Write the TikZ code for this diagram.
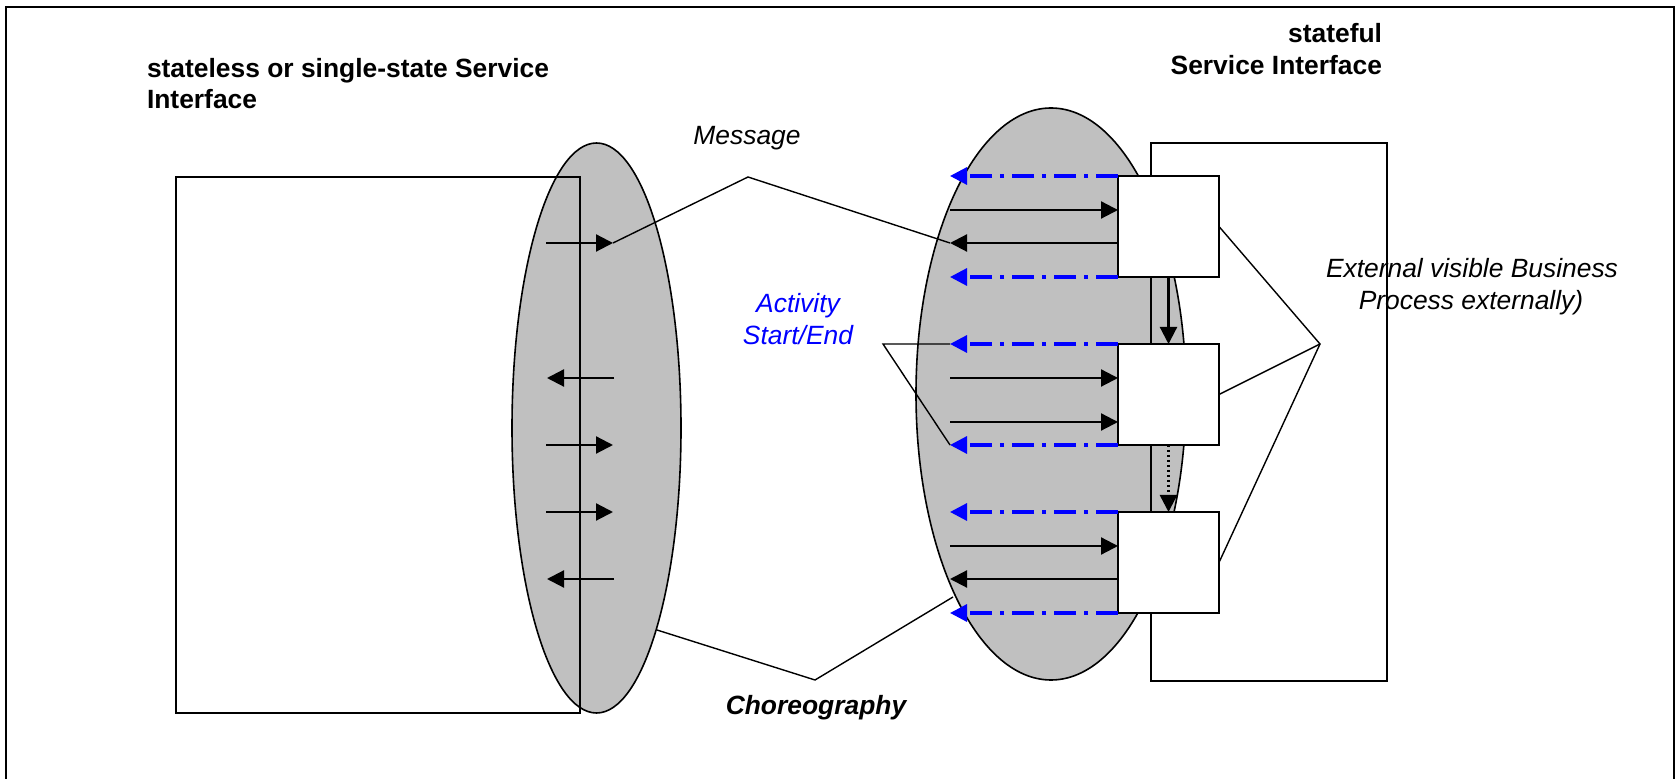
\documentclass[tikz,border=0pt]{standalone}
\usepackage{fontspec}
\setmainfont{Liberation Sans}
\usetikzlibrary{arrows.meta,shapes.geometric}
\definecolor{silverfill}{RGB}{192,192,192}
\definecolor{actblue}{RGB}{0,0,255}

\begin{document}
\begin{tikzpicture}[x=0.5pt,y=-0.5pt,
  lbl/.style={inner sep=0pt, outer sep=0pt, font=\fontsize{13.2}{15.5}\selectfont},
  frame/.style={draw=black, line width=0.8pt},
  oval/.style={ellipse, draw=black, fill=silverfill, line width=0.8pt, inner sep=0pt, outer sep=0pt},
  outline/.style={rectangle, draw=black, line width=0.8pt, inner sep=0pt, outer sep=0pt},
  stepbox/.style={rectangle, draw=black, fill=white, line width=0.8pt, inner sep=0pt, outer sep=0pt,
                  minimum width=50.5pt, minimum height=50.5pt},
  msg/.style={draw=black, line width=1.1pt, -{Triangle[length=8.5pt,width=8.5pt]}},
  act/.style={draw=actblue, line width=1.6pt, dash pattern=on 11pt off 4pt on 2pt off 4pt,
              -{Triangle[length=8.5pt,width=8.5pt]}},
  seq/.style={draw=black, line width=1.3pt, dash pattern=on 1.2pt off 1.3pt,
              -{Triangle[length=8.5pt,width=8.5pt]}},
  link/.style={draw=black, line width=0.7pt}
]
\path[use as bounding box] (0,0) rectangle (1676,779);

% page frame, open at the bottom
\draw[frame] (6,779) -- (6,7) -- (1674,7) -- (1674,779);

% titles
\node[lbl, font=\fontsize{13.2}{15.5}\selectfont\bfseries, anchor=base west] (tl1) at (147,78) {stateless or single-state Service};
\node[lbl, font=\fontsize{13.2}{15.5}\selectfont\bfseries, anchor=base west] (tl2) at (147,109) {Interface};
\node[lbl, font=\fontsize{13.2}{15.5}\selectfont\bfseries, anchor=base east] (tr1) at (1382,43) {stateful};
\node[lbl, font=\fontsize{13.2}{15.5}\selectfont\bfseries, anchor=base east] (tr2) at (1382,75) {Service Interface};

% interface ovals
\node[oval, minimum width=84.5pt, minimum height=285pt] (le) at (596.5,428) {};
\node[oval, minimum width=135pt, minimum height=286pt] (re) at (1051,394) {};

% service rectangles
\node[outline, minimum width=202pt, minimum height=268pt] (lr) at (378,445) {};
\node[outline, minimum width=118pt, minimum height=269pt] (rr) at (1269,412) {};

% messages of the stateless interface
\coordinate (la1s) at (546,243); \coordinate (la1t) at (613,243);
\coordinate (la2s) at (614,378); \coordinate (la2t) at (547,378);
\coordinate (la3s) at (546,445); \coordinate (la3t) at (613,445);
\coordinate (la4s) at (546,512); \coordinate (la4t) at (613,512);
\coordinate (la5s) at (614,579); \coordinate (la5t) at (547,579);
\draw[msg] (la1s) -- (la1t);
\draw[msg] (la2s) -- (la2t);
\draw[msg] (la3s) -- (la3t);
\draw[msg] (la4s) -- (la4t);
\draw[msg] (la5s) -- (la5t);

% activity boxes of the stateful interface
\node[stepbox] (b1) at (1168.5,226.5) {};
\node[stepbox] (b2) at (1168.5,394.5) {};
\node[stepbox] (b3) at (1168.5,562.5) {};

% messages of the stateful interface
\coordinate (ra1s) at (950,210); \coordinate (ra1t) at (1118,210);
\coordinate (ra2s) at (1118,243); \coordinate (ra2t) at (950,243);
\coordinate (ra3s) at (950,378); \coordinate (ra3t) at (1118,378);
\coordinate (ra4s) at (950,422); \coordinate (ra4t) at (1118,422);
\coordinate (ra5s) at (950,546); \coordinate (ra5t) at (1118,546);
\coordinate (ra6s) at (1118,579); \coordinate (ra6t) at (950,579);
\draw[msg] (ra1s) -- (ra1t);
\draw[msg] (ra2s) -- (ra2t);
\draw[msg] (ra3s) -- (ra3t);
\draw[msg] (ra4s) -- (ra4t);
\draw[msg] (ra5s) -- (ra5t);
\draw[msg] (ra6s) -- (ra6t);

% activity start / end signals
\foreach \n/\y in {1/176,2/277,3/344,4/445,5/512,6/613} {
  \coordinate (as\n) at (1118,\y);
  \coordinate (at\n) at (950,\y);
  \draw[act] (as\n) -- (at\n);
}

% sequence between activities
\draw[msg] (b1.south) -- (b2.north);
\draw[seq] (b2.south) -- (b3.north);

% callouts
\coordinate (msgv) at (748,177);
\draw[link] (la1t) -- (msgv) -- (ra2t);
\node[lbl, font=\fontsize{13.2}{15.5}\selectfont\itshape, anchor=base] (msglbl) at (747,145) {Message};

\coordinate (actv) at (883,344);
\draw[link] (at3) -- (actv) -- (at4);
\node[lbl, font=\fontsize{13.2}{15.5}\selectfont\itshape, text=actblue, anchor=base] (act1) at (798,313) {Activity};
\node[lbl, font=\fontsize{13.2}{15.5}\selectfont\itshape, text=actblue, anchor=base] (act2) at (798,345) {Start/End};

\coordinate (extv) at (1320,344);
\draw[link] (b1.east) -- (extv) -- (b3.east);
\draw[link] (extv) -- (b2.east);
\node[lbl, font=\fontsize{13.2}{15.5}\selectfont\itshape, anchor=base] (ext1) at (1472,278) {External visible Business};
\node[lbl, font=\fontsize{13.2}{15.5}\selectfont\itshape, anchor=base] (ext2) at (1471,310) {Process externally)};

\coordinate (ch1) at (657,630);
\coordinate (chv) at (815,680);
\coordinate (ch2) at (953,597);
\draw[link] (ch1) -- (chv) -- (ch2);
\node[lbl, font=\fontsize{13.2}{15.5}\selectfont\bfseries\itshape, anchor=base] (chlbl) at (816,715) {Choreography};
\end{tikzpicture}
\end{document}
